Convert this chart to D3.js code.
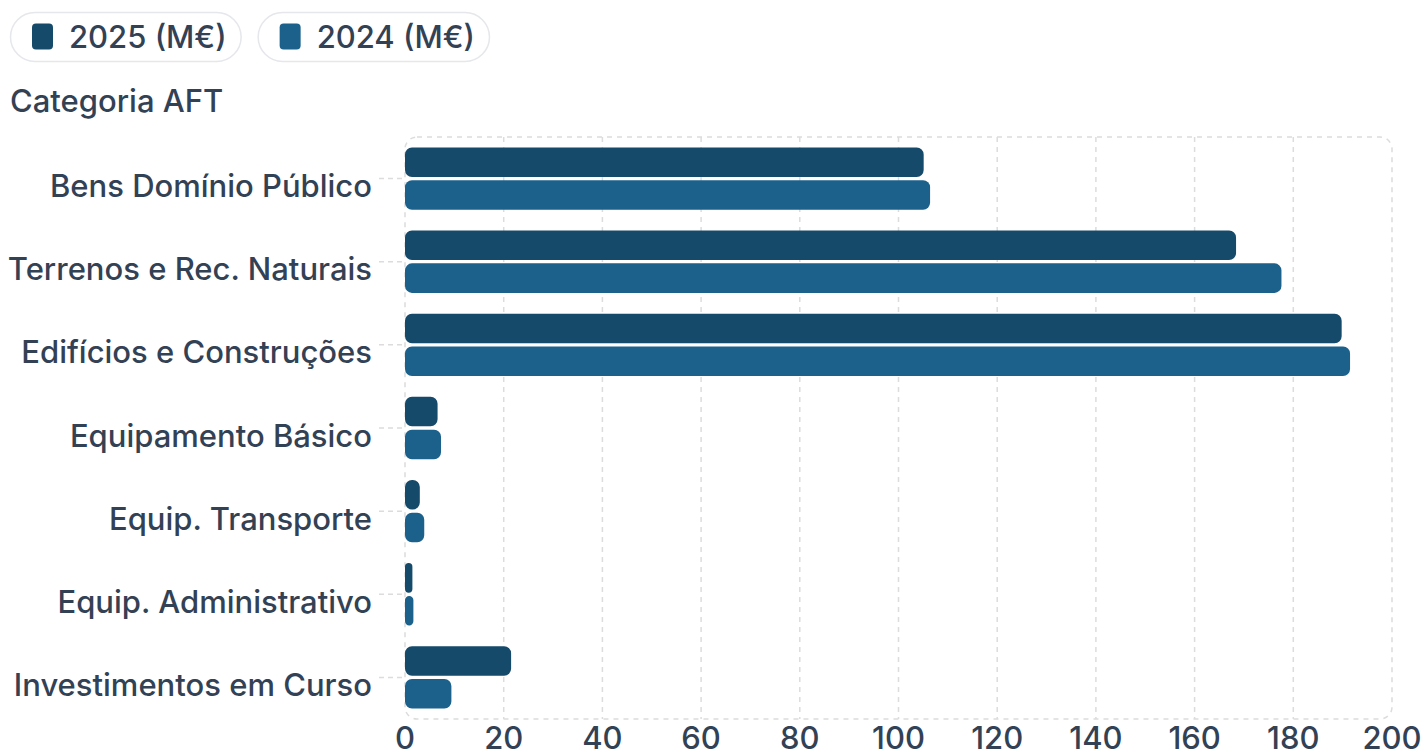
<!DOCTYPE html>
<html>
<head>
<meta charset="utf-8">
<script src="https://cdn.jsdelivr.net/npm/d3@7/dist/d3.min.js"></script>
<style>
  html, body { margin: 0; padding: 0; background: #ffffff; }
  svg { display: block; font-family: Inter, "Noto Sans", sans-serif; font-weight: 500; }
</style>
</head>
<body>
<svg id="chart" width="1423" height="751"></svg>
<script>
// Fixed tangible assets by category, in millions of euros
const categories = [
  "Bens Domínio Público",
  "Terrenos e Rec. Naturais",
  "Edifícios e Construções",
  "Equipamento Básico",
  "Equip. Transporte",
  "Equip. Administrativo",
  "Investimentos em Curso"
];
const seriesNames = ["2025 (M€)", "2024 (M€)"];
const values2025 = [105.1, 168.4, 189.8, 6.6, 3.0, 1.5, 21.5];
const values2024 = [106.4, 177.6, 191.5, 7.3, 3.9, 1.7, 9.4];
const xTicks = [0, 20, 40, 60, 80, 100, 120, 140, 160, 180, 200];
const axisTitle = "Categoria AFT";

const colors = ["#164a6b", "#1b618c"];
const textColor = "#334155";
const gridColor = "#dcdcdc";
const fontSize = 31;

const svg = d3.select("#chart");
const plot = { left: 405, right: 1392, top: 137, bottom: 719 };

const x = d3.scaleLinear().domain([0, 200]).range([plot.left, plot.right]);
const y = d3.scaleBand().domain(categories).range([plot.top, plot.bottom])
  .paddingInner(0.25).paddingOuter(0.125);
const ySub = d3.scaleBand().domain(seriesNames).range([0, y.bandwidth()]).paddingInner(0.1);
const color = d3.scaleOrdinal().domain(seriesNames).range(colors);

// Legend pills
const legend = svg.append("g");
let lx = 10;
seriesNames.forEach(name => {
  const g = legend.append("g");
  const label = g.append("text")
    .attr("x", lx + 59).attr("y", 48)
    .attr("font-size", fontSize).attr("fill", textColor)
    .text(name);
  const w = label.node().getComputedTextLength();
  const pillW = 59 + w + 14;
  g.insert("rect", "text")
    .attr("x", lx + 0.5).attr("y", 12.5)
    .attr("width", pillW).attr("height", 49)
    .attr("rx", 24.5)
    .attr("fill", "#ffffff").attr("stroke", "#e5e7eb").attr("stroke-width", 1.5);
  g.append("rect")
    .attr("x", lx + 22).attr("y", 23.5)
    .attr("width", 21).attr("height", 26).attr("rx", 4)
    .attr("fill", color(name));
  lx += pillW + 17;
});

// Axis title above the category labels
svg.append("text")
  .attr("x", 10).attr("y", 112)
  .attr("font-size", fontSize).attr("fill", textColor)
  .text(axisTitle);

// Vertical dashed grid lines
svg.append("g").selectAll("line")
  .data(xTicks.filter(t => t > 0 && t < 200))
  .join("line")
  .attr("x1", d => x(d)).attr("x2", d => x(d))
  .attr("y1", plot.top).attr("y2", plot.bottom)
  .attr("stroke", gridColor).attr("stroke-width", 1.5)
  .attr("stroke-dasharray", "5,5");

// Rounded dashed frame around the plot area
svg.append("rect")
  .attr("x", plot.left).attr("y", plot.top)
  .attr("width", plot.right - plot.left).attr("height", plot.bottom - plot.top)
  .attr("rx", 12)
  .attr("fill", "none").attr("stroke", gridColor).attr("stroke-width", 1.5)
  .attr("stroke-dasharray", "5,5");

// Category ticks and labels
const yAxis = svg.append("g");
categories.forEach(c => {
  const cy = y(c) + y.bandwidth() / 2;
  yAxis.append("line")
    .attr("x1", plot.left - 26).attr("x2", plot.left)
    .attr("y1", cy).attr("y2", cy)
    .attr("stroke", gridColor).attr("stroke-width", 1.5)
    .attr("stroke-dasharray", "5,4");
  yAxis.append("text")
    .attr("x", 372).attr("y", cy + 18.5)
    .attr("text-anchor", "end")
    .attr("font-size", fontSize).attr("fill", textColor)
    .text(c);
});

// Value axis labels
svg.append("g").selectAll("text")
  .data(xTicks)
  .join("text")
  .attr("x", d => x(d)).attr("y", 749)
  .attr("text-anchor", "middle")
  .attr("font-size", fontSize).attr("fill", textColor)
  .text(d => d);

// Bars with rounded corners
function roundedBar(x0, y0, w, h, r) {
  const rr = Math.min(r, w / 2, h / 2);
  const p = d3.path();
  p.moveTo(x0 + rr, y0);
  p.lineTo(x0 + w - rr, y0);
  p.arcTo(x0 + w, y0, x0 + w, y0 + rr, rr);
  p.lineTo(x0 + w, y0 + h - rr);
  p.arcTo(x0 + w, y0 + h, x0 + w - rr, y0 + h, rr);
  p.lineTo(x0 + rr, y0 + h);
  p.arcTo(x0, y0 + h, x0, y0 + h - rr, rr);
  p.lineTo(x0, y0 + rr);
  p.arcTo(x0, y0, x0 + rr, y0, rr);
  p.closePath();
  return p.toString();
}

const rows = [];
categories.forEach((c, i) => {
  rows.push({ cat: c, series: seriesNames[0], value: values2025[i] });
  rows.push({ cat: c, series: seriesNames[1], value: values2024[i] });
});

svg.append("g").selectAll("path")
  .data(rows)
  .join("path")
  .attr("fill", d => color(d.series))
  .attr("d", d => roundedBar(
    x(0),
    y(d.cat) + ySub(d.series),
    x(d.value) - x(0),
    ySub.bandwidth(),
    7
  ));
</script>
</body>
</html>
